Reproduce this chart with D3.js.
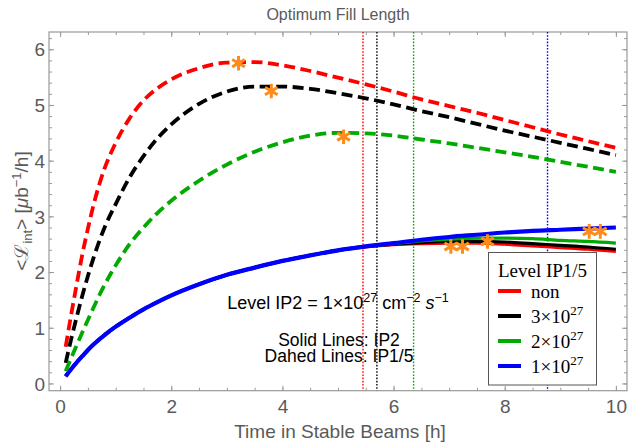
<!DOCTYPE html>
<html><head><meta charset="utf-8">
<script src="https://cdn.jsdelivr.net/npm/d3@7"></script>
<style>body{margin:0;background:#fff} svg{display:block}</style>
</head><body><svg id="c" width="629" height="445"></svg>
<script>
// ---- data ----
const times = [0.1,0.2,0.3,0.4,0.5,0.6,0.8,1.0,1.25,1.5,1.75,2.0,2.5,3.0,3.5,4.0,4.5,5.0,5.5,6.0,6.5,7.0,7.5,8.0,8.5,9.0,9.5,10.0];
// dashed: IP1/5 luminosity, for IP1/5 levelling: non, 3e27, 2e27
const dashedNon = [0.66,1.24,1.79,2.32,2.78,3.20,3.86,4.32,4.76,5.08,5.30,5.46,5.66,5.76,5.77,5.71,5.61,5.49,5.37,5.24,5.10,4.98,4.86,4.73,4.60,4.47,4.35,4.23];
const dashed3 = [0.37,0.80,1.20,1.58,1.93,2.25,2.80,3.22,3.70,4.08,4.40,4.65,5.02,5.24,5.33,5.33,5.29,5.21,5.12,5.01,4.89,4.78,4.66,4.54,4.43,4.32,4.21,4.10];
const dashed2 = [0.22,0.46,0.69,0.92,1.14,1.36,1.77,2.12,2.50,2.80,3.06,3.28,3.64,3.93,4.16,4.33,4.45,4.50,4.49,4.45,4.38,4.31,4.23,4.15,4.07,3.98,3.89,3.80];
// solid: IP2 luminosity
const solidNon = [0.13,0.26,0.38,0.49,0.60,0.70,0.87,1.02,1.18,1.33,1.46,1.58,1.78,1.95,2.08,2.20,2.30,2.39,2.45,2.49,2.51,2.52,2.52,2.50,2.47,2.44,2.41,2.37];
const solid3 = [0.13,0.26,0.38,0.49,0.60,0.70,0.87,1.02,1.18,1.33,1.46,1.58,1.78,1.95,2.08,2.20,2.30,2.39,2.46,2.50,2.53,2.55,2.55,2.54,2.51,2.48,2.45,2.41];
const solid2 = [0.13,0.26,0.38,0.49,0.60,0.70,0.87,1.02,1.18,1.33,1.46,1.58,1.78,1.95,2.08,2.20,2.30,2.39,2.46,2.51,2.56,2.59,2.61,2.61,2.60,2.57,2.55,2.52];
const solid1 = [0.13,0.26,0.38,0.49,0.60,0.70,0.87,1.02,1.18,1.33,1.46,1.58,1.78,1.95,2.08,2.20,2.30,2.39,2.46,2.52,2.58,2.63,2.67,2.71,2.74,2.76,2.78,2.80];
// optimum markers
const starX = [3.21,3.80,5.10,7.03,7.24,7.69,9.52,9.72];
const starY = [5.75,5.25,4.43,2.46,2.46,2.55,2.73,2.73];
// optimum fill length vertical lines
const optX = [5.45,5.70,6.36,8.77];
const legendLabels = ["non","3\u00d710","2\u00d710","1\u00d710"];
const legendSup = ["","27","27","27"];
const xTicks = [0,2,4,6,8,10];
const yTicks = [0,1,2,3,4,5,6];

// ---- styles ----
const colors = ["#ff0000","#000000","#00aa00","#0000ff"];
const starColor = "#ff8c1a";
const svg = d3.select("#c");
const x = d3.scaleLinear([-0.2,10.2],[49,627]);
const y = d3.scaleLinear([-0.13,6.31],[390.7,32]);
const X0=49,X1=627,Y0=32,Y1=390.7;
const gray="#999", txt="#5a5a5a";

svg.append("defs").append("clipPath").attr("id","clip")
  .append("rect").attr("x",X0).attr("y",Y0).attr("width",X1-X0).attr("height",Y1-Y0);

// ticks
function ticksG(axisFn, pos, major, minor, labels){
  const g1 = svg.append("g").attr("transform",pos);
  g1.call(axisFn.tickValues(minor).tickSize(-3).tickFormat(""));
  g1.select(".domain").remove();
  g1.selectAll("line").attr("stroke",gray);
  const g2 = svg.append("g").attr("transform",pos);
  g2.call(axisFn.tickValues(major).tickSize(-5).tickFormat(labels? d3.format("d") : ""));
  g2.select(".domain").remove();
  g2.selectAll("line").attr("stroke",gray);
  return g2;
}
const xMinor = d3.range(0,10.01,0.5), yMinor = d3.range(0,6.21,0.2);
const gb = ticksG(d3.axisBottom(x), `translate(0,${Y1})`, xTicks, xMinor, true);
gb.selectAll("text").attr("y",22.8).attr("dy",0).attr("font-size",19).attr("font-family","Liberation Sans, Arial, sans-serif").attr("fill",txt);
ticksG(d3.axisTop(x), `translate(0,${Y0})`, xTicks, xMinor, false);
const gl = ticksG(d3.axisLeft(y), `translate(${X0},0)`, yTicks, yMinor, true);
gl.selectAll("text").attr("x",-4).attr("dy","0.35em").attr("font-size",19).attr("font-family","Liberation Sans, Arial, sans-serif").attr("fill",txt);
ticksG(d3.axisRight(y), `translate(${X1},0)`, yTicks, yMinor, false);

// frame
svg.append("rect").attr("x",X0).attr("y",Y0).attr("width",X1-X0).attr("height",Y1-Y0)
  .attr("fill","none").attr("stroke",gray).attr("stroke-width",1.2);

const plot = svg.append("g").attr("clip-path","url(#clip)");

// vertical dotted lines
plot.selectAll("line.opt").data(optX).join("line").attr("class","opt")
  .attr("x1",d=>x(d)).attr("x2",d=>x(d)).attr("y1",Y0).attr("y2",Y1)
  .attr("stroke",(d,i)=>colors[i]).attr("stroke-width",1.4).attr("stroke-dasharray","1.6,1.6");

const line = d3.line().x((d,i)=>x(times[i])).y(d=>y(d)).curve(d3.curveMonotoneX);

// solid
[solidNon,solid3,solid2].forEach((s,i)=>{
  plot.append("path").attr("d",line(s)).attr("fill","none").attr("stroke",colors[i]).attr("stroke-width",3.2);
});
plot.append("path").attr("d",line(solid1)).attr("fill","none").attr("stroke",colors[3]).attr("stroke-width",4.2);

// dashed
[dashedNon,dashed3,dashed2].forEach((s,i)=>{
  plot.append("path").attr("d",line(s)).attr("fill","none").attr("stroke",colors[i])
    .attr("stroke-width",3.8).attr("stroke-dasharray","11,5.5");
});

// stars
const star = d3.symbol().type(d3.symbolAsterisk).size(150);
plot.selectAll("path.star").data(starX).join("path").attr("class","star")
  .attr("d",star).attr("transform",(d,i)=>`translate(${x(d)},${y(starY[i])})`)
  .attr("fill","none").attr("stroke",starColor).attr("stroke-width",3);

// title
svg.append("text").attr("x",338).attr("y",19.5).attr("text-anchor","middle")
  .attr("font-family","Liberation Sans, Arial, sans-serif").attr("font-size",16).attr("fill",txt)
  .text("Optimum Fill Length");
// x label
svg.append("text").attr("x",340).attr("y",437.5).attr("text-anchor","middle")
  .attr("font-family","Liberation Sans, Arial, sans-serif").attr("font-size",19).attr("fill",txt)
  .text("Time in Stable Beams [h]");
// y label
const yl = svg.append("text").attr("transform","translate(28,211) rotate(-90)").attr("text-anchor","middle")
  .attr("font-family","Liberation Sans, Arial, sans-serif").attr("font-size",19).attr("fill",txt);
yl.append("tspan").text("<\u2112");
yl.append("tspan").attr("font-size",13).attr("dy",4).text("int");
yl.append("tspan").attr("dy",-4).text("> [");
yl.append("tspan").attr("font-style","italic").text("\u03bc");
yl.append("tspan").text("b");
yl.append("tspan").attr("font-size",13).attr("dy",-7).text("\u22121");
yl.append("tspan").attr("dy",7).text("/h]");

// annotations
const sans = "Liberation Sans, Arial, sans-serif";
const a1 = svg.append("text").attr("x",338).attr("y",309.3).attr("text-anchor","middle")
  .attr("font-family",sans).attr("font-size",18).attr("fill","#000");
a1.append("tspan").text("Level IP2 = 1\u00d710");
a1.append("tspan").attr("font-size",12.5).attr("dy",-7).text("27");
a1.append("tspan").attr("dy",7).text(" cm");
a1.append("tspan").attr("font-size",12.5).attr("dy",-7).text("\u22122");
a1.append("tspan").attr("dy",7).attr("font-style","italic").text(" s");
a1.append("tspan").attr("font-size",12.5).attr("dy",-7).text("\u22121");
svg.append("text").attr("x",339).attr("y",346).attr("text-anchor","middle")
  .attr("font-family",sans).attr("font-size",17.5).text("Solid Lines: IP2");
svg.append("text").attr("x",339).attr("y",362.3).attr("text-anchor","middle")
  .attr("font-family",sans).attr("font-size",17.5).text("Dahed Lines: IP1/5");

// legend
const serif = "Liberation Serif, Times New Roman, serif";
const lg = svg.append("g");
lg.append("rect").attr("x",488.5).attr("y",252.5).attr("width",108).attr("height",132.5)
  .attr("fill","#fff").attr("stroke","#555").attr("stroke-width",1);
lg.append("text").attr("x",542.5).attr("y",276.5).attr("text-anchor","middle")
  .attr("font-family",serif).attr("font-size",19).text("Level IP1/5");
const rowY = [291,316,341,366];
legendLabels.forEach((lab,i)=>{
  lg.append("line").attr("x1",498).attr("x2",521).attr("y1",rowY[i]).attr("y2",rowY[i])
    .attr("stroke",colors[i]).attr("stroke-width",4);
  const t = lg.append("text").attr("x",531).attr("y",rowY[i]+7).attr("font-family",serif).attr("font-size",19);
  t.append("tspan").text(lab);
  if(legendSup[i]) t.append("tspan").attr("font-size",13).attr("dy",-8).text(legendSup[i]);
});
</script></body></html>
